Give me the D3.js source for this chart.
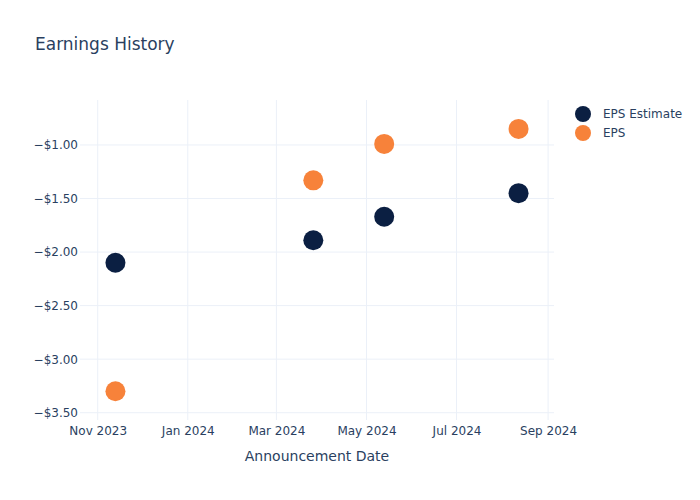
<!DOCTYPE html>
<html>
<head>
<meta charset="utf-8">
<script src="https://cdn.jsdelivr.net/npm/d3@7"></script>
<style>
  body { margin: 0; background: #fff; }
  svg text { font-family: "DejaVu Sans", sans-serif; fill: #2a3f5f; }
</style>
</head>
<body>
<svg id="chart" width="700" height="500"></svg>
<script>
// data
var dates = ["2023-11-13", "2024-03-26", "2024-05-13", "2024-08-12"];
var eps_estimate = [-2.10, -1.89, -1.67, -1.45];
var eps_actual = [-3.30, -1.33, -0.99, -0.85];
var y_ticks = [-1.0, -1.5, -2.0, -2.5, -3.0, -3.5];
var x_ticks = ["2023-11-01", "2024-01-01", "2024-03-01", "2024-05-01", "2024-07-01", "2024-09-01"];
var series_names = ["EPS Estimate", "EPS"];
var series_colors = ["#0b1f42", "#f7823a"];

var svg = d3.select('svg#chart');
var parse = d3.timeParse("%Y-%m-%d");

var plot_left = 80, plot_right = 554, plot_top = 100, plot_bottom = 420;

var x = d3.scaleTime()
    .domain([parse("2023-10-20"), parse("2024-09-05")])
    .range([plot_left, plot_right]);
var y = d3.scaleLinear()
    .domain([-3.568, -0.58])
    .range([plot_bottom, plot_top]);

var grid_style = {stroke: "#ebf0f8", "stroke-width": "1px"};

function apply(sel, style){
    for (var k in style) sel.style(k, style[k]);
    return sel
}

// grid
x_ticks.forEach(function(t){
    var g = svg.append('line')
        .attr('x1', x(parse(t))).attr('x2', x(parse(t)))
        .attr('y1', plot_top).attr('y2', plot_bottom);
    apply(g, grid_style)
});
y_ticks.forEach(function(t){
    var g = svg.append('line')
        .attr('x1', plot_left).attr('x2', plot_right)
        .attr('y1', y(t)).attr('y2', y(t));
    apply(g, grid_style)
});

// axes (labels only, plotly style)
var fmt = function(v){ return "\u2212$" + Math.abs(v).toFixed(2) };
var yAxis = d3.axisLeft(y).tickValues(y_ticks).tickFormat(fmt).tickSize(0).tickPadding(2);
var ya = svg.append('g').attr('transform', 'translate(' + plot_left + ',0)').call(yAxis);
ya.select('.domain').remove();
ya.selectAll('text').style('font-size', '12px').style('font-family', null).attr('fill', null);

var xAxis = d3.axisBottom(x).tickValues(x_ticks.map(parse))
    .tickFormat(d3.timeFormat("%b %Y")).tickSize(0).tickPadding(6);
var xa = svg.append('g').attr('transform', 'translate(0,' + plot_bottom + ')').call(xAxis);
xa.select('.domain').remove();
xa.selectAll('text').style('font-size', '12px').attr('fill', null);
ya.attr('font-family', null);
xa.attr('font-family', null);

// points
var series = [eps_estimate, eps_actual];
series.forEach(function(vals, s){
    svg.append('g').selectAll('circle')
        .data(vals)
        .enter().append('circle')
        .attr('cx', function(d, i){ return x(parse(dates[i])) })
        .attr('cy', function(d){ return y(d) })
        .attr('r', 10)
        .style('fill', series_colors[s]);
});

// title
svg.append('text').attr('x', 35).attr('y', 50)
    .style('font-size', '17px').text("Earnings History");

// x axis title
svg.append('text').attr('x', (plot_left + plot_right) / 2).attr('y', 461)
    .attr('text-anchor', 'middle').style('font-size', '14px')
    .text("Announcement Date");

// legend
series_names.forEach(function(name, i){
    var ly = 114 + i * 19;
    svg.append('circle').attr('cx', 583).attr('cy', ly).attr('r', 8)
        .style('fill', series_colors[i]);
    svg.append('text').attr('x', 603).attr('y', ly + 4)
        .style('font-size', '12px').text(name);
});
</script>
</body>
</html>
